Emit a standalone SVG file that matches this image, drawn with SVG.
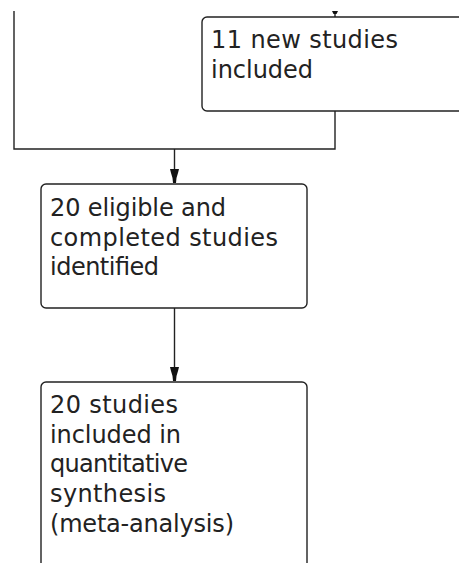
<svg xmlns="http://www.w3.org/2000/svg" width="459" height="563" viewBox="0 0 459 563">
<style>
  .box { fill: #ffffff; stroke: #222222; stroke-width: 1.4; }
  .lbl { font-family: "DejaVu Sans", "Liberation Sans", sans-serif; font-size: 24px; fill: #222222; }
  .conn { fill: none; stroke: #222222; stroke-width: 1.4; }
  .head { fill: #111111; stroke: none; }
</style>
<defs>
  <path id="arrowhead" d="M-4.5,0 L4.5,0 L3.5,4 L2,9 L1.5,14 L-1.5,14 L-2,9 L-3.5,4 Z"/>
</defs>
<rect width="459" height="563" fill="#ffffff"/>
<g id="connectors">
  <path class="conn" d="M14,11 V149 H335 V111"/>
  <path class="conn" d="M174.5,149 V183"/>
  <use href="#arrowhead" class="head" x="174.5" y="169"/>
  <path class="conn" d="M174.5,308 V381"/>
  <use href="#arrowhead" class="head" x="174.5" y="367"/>
  <path class="conn" d="M335,11 V17"/>
  <path class="head" d="M332,11 H338 L336.5,14 H333.5 Z"/>
</g>
<g id="node-new-studies">
  <rect class="box" x="202" y="17" width="280" height="94" rx="5" ry="5"/>
  <text class="lbl" x="211" y="48" textLength="187">11 new studies</text>
  <text class="lbl" x="211" y="78" textLength="102">included</text>
</g>
<g id="node-eligible">
  <rect class="box" x="41" y="184" width="266" height="124" rx="5" ry="5"/>
  <text class="lbl" x="50" y="216" textLength="176">20 eligible and</text>
  <text class="lbl" x="50" y="246" textLength="228">completed studies</text>
  <text class="lbl" x="50" y="275" textLength="109">identified</text>
</g>
<g id="node-synthesis">
  <rect class="box" x="41" y="382" width="266" height="200" rx="5" ry="5"/>
  <text class="lbl" x="50" y="413" textLength="128">20 studies</text>
  <text class="lbl" x="50" y="443" textLength="131">included in</text>
  <text class="lbl" x="50" y="472" textLength="138">quantitative</text>
  <text class="lbl" x="50" y="502" textLength="116">synthesis</text>
  <text class="lbl" x="50" y="532" textLength="184">(meta-analysis)</text>
</g>
</svg>
